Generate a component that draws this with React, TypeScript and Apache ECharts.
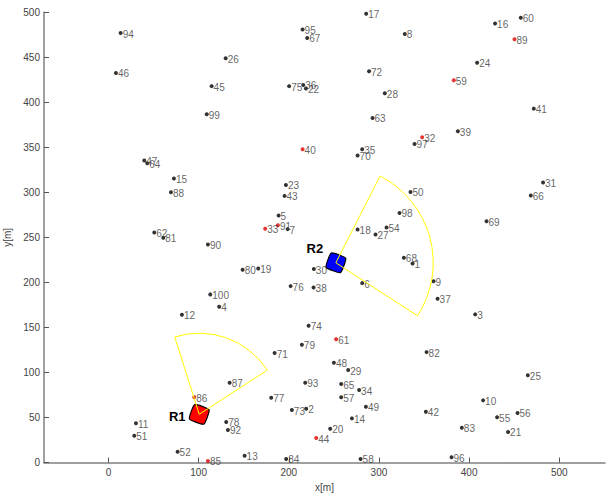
import React, { useEffect, useRef } from "react";
import * as echarts from "echarts";

const pointIds = [
  1, 2, 3, 4, 5, 6, 7, 8, 9, 10, 11, 12, 13, 14, 15, 16, 17, 18, 19, 20,
  21, 22, 23, 24, 25, 26, 27, 28, 29, 30, 31, 32, 33, 34, 35, 36, 37, 38, 39, 40,
  41, 42, 43, 44, 45, 46, 47, 48, 49, 50, 51, 52, 54, 55, 56, 57, 58, 59, 60,
  61, 62, 63, 64, 65, 66, 67, 68, 69, 70, 71, 72, 73, 74, 75, 76, 77, 78, 79, 80,
  81, 82, 83, 84, 85, 86, 87, 88, 89, 90, 91, 92, 93, 94, 95, 96, 97, 98, 99, 100,
];
const pointX = [
  337.3, 219.3, 406.7, 122.8, 188.7, 281.4, 198.7, 328.7, 360.5, 415.5,
  30.5, 81.5, 151, 270, 72.6, 428.8, 285.8, 276.3, 166.1, 245.9,
  443.2, 219, 196.8, 408.9, 465.1, 130, 296.2, 306.5, 265.9, 227.8,
  482, 347.9, 173.8, 278, 281.4, 216, 365, 227.5, 387.5, 215.3,
  471.7, 352, 195.3, 230.4, 114.4, 8.3, 39.7, 250, 285.5, 335,
  28.6, 76.7, 308.4, 431, 453.7, 258.1, 279.6, 383, 457.3,
  252.5, 50.8, 292.9, 43, 258.1, 468.4, 220.4, 327.6, 419.3, 276.3,
  184.3, 289, 203.4, 222, 200.4, 202, 180.5, 130.6, 214.5, 148.8,
  60.8, 352.8, 391.9, 197.1, 110.3, 95.1, 134.4, 69.3, 450.3, 110.3,
  187.9, 132.5, 218.2, 13.5, 215.3, 380.5, 339.5, 322.8, 109, 112.9,
];
const pointY = [
  221, 59.7, 164.5, 173, 274.4, 199.2, 259.2, 476, 201.4, 69,
  43.5, 164, 7.5, 49, 315.4, 487.5, 498.5, 258.8, 215.5, 37.5,
  33.9, 415.3, 308.3, 444, 96.8, 449, 253.3, 410, 102.7, 214.8,
  311, 361.3, 259.5, 80.5, 348, 419.3, 181.8, 194.4, 368, 348,
  393, 56.4, 296.1, 27.2, 418, 432.6, 335.4, 110.8, 61.9, 300.5,
  29.7, 12, 261, 50.2, 55, 72.4, 3.9, 424.5, 494,
  137, 255.5, 382.7, 332.4, 87.1, 296.6, 471.5, 227.3, 268, 341,
  121.5, 434.5, 58.3, 151.8, 418, 195.9, 71.9, 45, 130.7, 214,
  249.5, 122.6, 38.6, 3.9, 1.7, 72.4, 88.6, 300.2, 470, 242.2,
  263.6, 36.1, 88.6, 477, 481, 5.8, 353.8, 277.2, 386.8, 186.7,
];
const redIds = [32, 33, 40, 44, 59, 61, 85, 86, 89, 91];

const robotNames = ["R1", "R2"];
const robotX = [100.7, 252.2];
const robotY = [53.5, 221.8];
const robotColors = ["#ff0000", "#0000ff"];
const robotTilt = [20, 20];
const sensorRange = [90, 108];
const sensorStartDeg = [33, -33];
const sensorEndDeg = [107.6, 63];

const xTicks = [0, 100, 200, 300, 400, 500];

export default function App() {
  const ref = useRef<HTMLDivElement>(null);
  useEffect(() => {
    if (!ref.current) return;
    const chart = echarts.init(ref.current, undefined, { renderer: "svg" });
    const blackPts: any[] = [];
    const redPts: any[] = [];
    pointIds.forEach((id, i) => {
      const d = { value: [pointX[i], pointY[i]], name: String(id) };
      if (redIds.includes(id)) redPts.push(d);
      else blackPts.push(d);
    });
    const labelStyle = {
      show: true,
      position: "right",
      distance: 0,
      offset: [0, 1],
      formatter: (p: any) => p.name,
      color: "#3a3a3a",
      fontSize: 10,
      fontFamily: "Liberation Sans, Arial, sans-serif",
    };
    const robotData = robotNames.map((n, i) => [robotX[i], robotY[i], robotTilt[i], i]);
    const sensorData = robotNames.map((n, i) => [
      robotX[i],
      robotY[i],
      sensorRange[i],
      sensorStartDeg[i],
      sensorEndDeg[i],
    ]);
    const axisFont = { color: "#444", fontSize: 10, fontFamily: "Liberation Sans, Arial, sans-serif" };
    chart.setOption({
      animation: false,
      grid: { left: 44, right: 4, top: 12.3, bottom: 33.5, outerBoundsMode: "none", containLabel: false },
      xAxis: {
        type: "value",
        min: -71.5,
        max: 550.7,
        name: "x[m]",
        nameLocation: "middle",
        nameGap: 18,
        nameTextStyle: axisFont,
        axisLine: { show: true, onZero: false, lineStyle: { color: "#808080", width: 1.5 } },
        axisTick: { show: true, inside: true, length: 5, customValues: xTicks, lineStyle: { color: "#555" } },
        axisLabel: { ...axisFont, margin: 5, customValues: xTicks },
        splitLine: { show: false },
      },
      yAxis: {
        type: "value",
        min: 0,
        max: 500,
        interval: 50,
        name: "y[m]",
        nameLocation: "middle",
        nameGap: 26,
        nameTextStyle: axisFont,
        axisLine: { show: true, onZero: false, lineStyle: { color: "#808080", width: 1.5 } },
        axisTick: { show: true, inside: true, length: 5, lineStyle: { color: "#555" } },
        axisLabel: { ...axisFont, margin: 4 },
        splitLine: { show: false },
      },
      series: [
        {
          type: "custom",
          clip: false,
          data: robotData,
          z: 3,
          renderItem: (params: any, api: any) => {
            const c = api.coord([api.value(0), api.value(1)]);
            const s = api.size([17, 17]);
            const h = s[0] / 2;
            const t = (api.value(2) * Math.PI) / 180;
            const idx = api.value(3);
            const pts = [
              [-h, -h],
              [h, -h],
              [h, h],
              [-h, h],
            ].map(([px, py]) => [
              c[0] + px * Math.cos(t) - py * Math.sin(t),
              c[1] + px * Math.sin(t) + py * Math.cos(t),
            ]);
            const name = robotNames[idx];
            return {
              type: "group",
              children: [
                {
                  type: "polygon",
                  shape: { points: pts, smooth: 0.15 },
                  style: { fill: robotColors[idx], stroke: "#000", lineWidth: 1.2, lineJoin: "round" },
                },
                {
                  type: "text",
                  x: c[0] + (idx === 0 ? -22 : -21),
                  y: c[1] + (idx === 0 ? 2 : -14),
                  style: {
                    text: name,
                    fontSize: 13,
                    fontWeight: "bold",
                    fontFamily: "Liberation Sans, Arial, sans-serif",
                    fill: "#000",
                    align: "center",
                    verticalAlign: "middle",
                  },
                },
              ],
            };
          },
        },
        {
          type: "scatter",
          data: blackPts,
          symbol: "circle",
          symbolSize: 4,
          itemStyle: { color: "#000" },
          label: labelStyle,
          z: 4,
        },
        {
          type: "scatter",
          data: redPts,
          symbol: "circle",
          symbolSize: 4,
          itemStyle: { color: "#e00000" },
          label: labelStyle,
          z: 4,
        },
        {
          type: "custom",
          clip: false,
          data: sensorData,
          z: 5,
          renderItem: (params: any, api: any) => {
            const c = api.coord([api.value(0), api.value(1)]);
            const r = api.size([api.value(2), 0])[0];
            const a0 = (-api.value(4) * Math.PI) / 180;
            const a1 = (-api.value(3) * Math.PI) / 180;
            return {
              type: "sector",
              shape: { cx: c[0], cy: c[1], r0: 0, r, startAngle: a0, endAngle: a1, clockwise: true },
              style: { fill: "none", stroke: "#ffff00", lineWidth: 1 },
            };
          },
        },
      ],
    });
    return () => chart.dispose();
  }, []);
  return (
    <div
      ref={ref}
      style={{ position: "fixed", left: 0, top: 0, width: 609, height: 496, background: "#fff" }}
    />
  );
}
